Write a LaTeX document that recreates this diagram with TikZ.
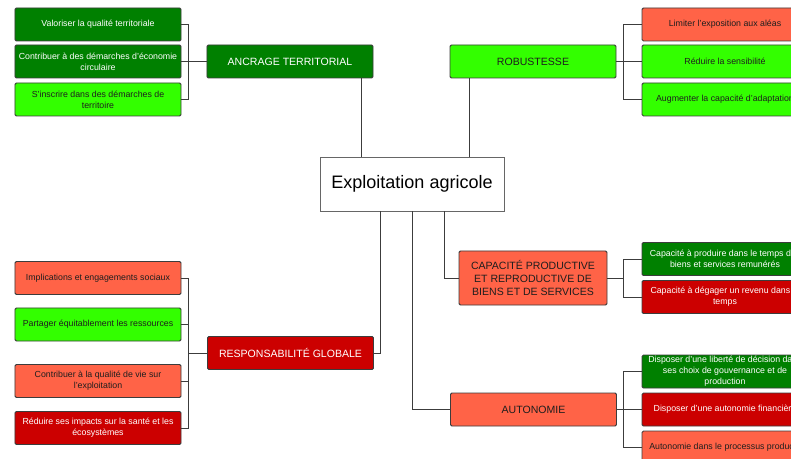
\documentclass[tikz,border=0pt]{standalone}
\usepackage{fontspec}
\setmainfont{Liberation Sans}
\usepackage{tikz}

\definecolor{dkgreen}{RGB}{0,128,0}
\definecolor{ltgreen}{RGB}{51,255,0}
\definecolor{tomato}{RGB}{255,99,71}
\definecolor{dkred}{RGB}{204,0,0}
\definecolor{edgegray}{RGB}{60,60,60}
\definecolor{txtdark}{RGB}{30,30,30}

\begin{document}
\begin{tikzpicture}[x=0.03cm, y=-0.03cm,
    box/.style={draw=edgegray, line width=0.8pt, rounded corners=1.2pt,
      minimum width=4.98cm, minimum height=0.99cm, inner sep=1pt, align=center,
      font=\fontsize{7.5}{9.4}\selectfont},
    theme/.style={box, font=\fontsize{9}{11}\selectfont},
    dg/.style={fill=dkgreen, text=white},
    lg/.style={fill=ltgreen, text=txtdark},
    tm/.style={fill=tomato, text=txtdark},
    dr/.style={fill=dkred, text=white},
    link/.style={draw=edgegray, line width=0.8pt}]
  \useasboundingbox (0,0) rectangle (791,459);
  \clip (0,0) rectangle (791,459);

  % centre
  \node[draw=gray!80!black, fill=white, line width=0.6pt, minimum width=5.52cm,
    minimum height=1.62cm, font=\fontsize{15.4}{18}\selectfont] (expl) at (412,184) {Exploitation agricole};

  % themes
  \node[theme, dg] (anc)  at (290,61.5)  {ANCRAGE TERRITORIAL};
  \node[theme, lg] (rob)  at (533,61.5)  {ROBUSTESSE};
  \node[theme, dr] (resp) at (290.5,353) {RESPONSABILIT\'E GLOBALE};
  \node[theme, tm, minimum width=4.44cm, minimum height=1.62cm] (cap) at (533,278)
    {CAPACIT\'E PRODUCTIVE\\ET REPRODUCTIVE DE\\BIENS ET DE SERVICES};
  \node[theme, tm] (auto) at (533.5,409.5) {AUTONOMIE};

  % ancrage territorial
  \node[box, dg] (val) at (98,24.5) {Valoriser la qualit\'e territoriale};
  \node[box, dg] (cir) at (98,61.5) {Contribuer \`a des d\'emarches d'\'economie\\circulaire};
  \node[box, lg] (ter) at (98,99.5) {S'inscrire dans des d\'emarches de\\territoire};

  % robustesse
  \node[box, tm] (lim) at (725,24.5) {Limiter l'exposition aux al\'eas};
  \node[box, lg] (sen) at (725,61.5) {R\'eduire la sensibilit\'e};
  \node[box, lg] (ada) at (725,99.5) {Augmenter la capacit\'e d'adaptation};

  % responsabilite globale
  \node[box, tm] (imp)  at (98,278)   {Implications et engagements sociaux};
  \node[box, lg] (par)  at (98,324.5) {Partager \'equitablement les ressources};
  \node[box, tm] (qua)  at (98,381)   {Contribuer \`a la qualit\'e de vie sur\\l'exploitation};
  \node[box, dr] (sant) at (98,428)   {R\'eduire ses impacts sur la sant\'e et les\\\'ecosyst\`emes};

  % capacite productive
  \node[box, dg] (prod) at (725,259) {Capacit\'e \`a produire dans le temps des\\biens et services remun\'er\'es};
  \node[box, dr] (rev)  at (725,297) {Capacit\'e \`a d\'egager un revenu dans le\\temps};

  % autonomie
  \node[box, dg] (lib)  at (725,371.5) {Disposer d'une libert\'e de d\'ecision dans\\ses choix de gouvernance et de\\production};
  \node[box, dr] (fin)  at (725,409.5) {Disposer d'une autonomie financi\`ere};
  \node[box, tm] (proc) at (725,447.5) {Autonomie dans le processus productif};

  % trunks from the centre
  \coordinate (jA) at (361,0);
  \coordinate (jB) at (469,0);
  \coordinate (jR) at (380,0);
  \coordinate (jN) at (412,0);
  \coordinate (jC) at (444,0);
  \draw[link] (anc.south -| jA) -- (expl.north -| jA);
  \draw[link] (rob.south -| jB) -- (expl.north -| jB);
  \draw[link] (expl.south -| jR) |- (resp.east);
  \draw[link] (expl.south -| jN) |- (auto.west);
  \draw[link] (expl.south -| jC) |- (cap.west);

  % brackets
  \coordinate (spA) at (188,61.5);
  \draw[link] (anc.west) -- (spA);
  \draw[link] (val.east) -| (spA);
  \draw[link] (cir.east) -- (spA);
  \draw[link] (ter.east) -| (spA);

  \coordinate (spR) at (623,61.5);
  \draw[link] (rob.east) -- (spR);
  \draw[link] (lim.west) -| (spR);
  \draw[link] (sen.west) -- (spR);
  \draw[link] (ada.west) -| (spR);

  \coordinate (spG) at (188,353);
  \draw[link] (resp.west) -- (spG);
  \draw[link] (imp.east) -| (spG);
  \draw[link] (par.east) -| (spG);
  \draw[link] (qua.east) -| (spG);
  \draw[link] (sant.east) -| (spG);

  \coordinate (spC) at (623,278);
  \draw[link] (cap.east) -- (spC);
  \draw[link] (prod.west) -| (spC);
  \draw[link] (rev.west) -| (spC);

  \coordinate (spN) at (623,409.5);
  \draw[link] (auto.east) -- (spN);
  \draw[link] (lib.west) -| (spN);
  \draw[link] (fin.west) -- (spN);
  \draw[link] (proc.west) -| (spN);
\end{tikzpicture}
\end{document}
